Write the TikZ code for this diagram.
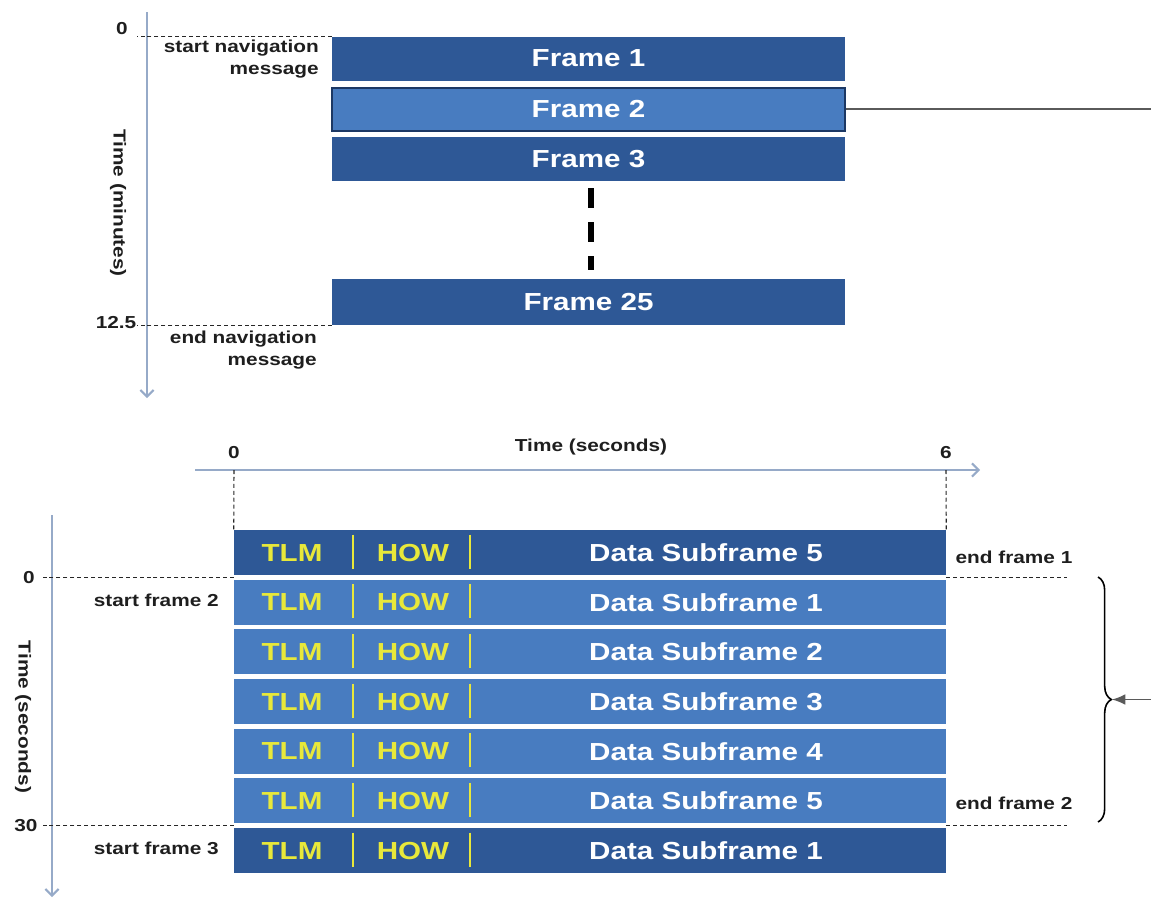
\documentclass[tikz,border=0pt]{standalone}
\usepackage{fontspec}
\setmainfont{Liberation Sans}[FakeStretch=1.2]
\usetikzlibrary{arrows.meta,decorations.pathreplacing,calc}
\definecolor{darkbox}{RGB}{46,88,150}
\definecolor{lightbox}{RGB}{72,124,192}
\definecolor{boxedge}{RGB}{28,56,100}
\definecolor{sepyellow}{RGB}{232,232,58}
\definecolor{axiscol}{RGB}{150,170,200}
\definecolor{labelcol}{RGB}{30,30,30}
\definecolor{linkcol}{RGB}{90,90,90}
\begin{document}
\begin{tikzpicture}[x=0.75pt,y=-0.75pt,
  frm/.style={rectangle, fill=darkbox, draw=none, minimum width=513*0.75pt,
    minimum height=44*0.75pt, inner sep=0pt, text=white,
    font=\bfseries\fontsize{18.5}{20}\selectfont},
  frmlight/.style={frm, fill=lightbox, draw=boxedge, line width=1.5pt},
  lbl/.style={text=labelcol, font=\bfseries\fontsize{13}{16.5}\selectfont,
    inner sep=0pt, align=right},
  axisline/.style={draw=axiscol, line width=1.5pt,
    -{Straight Barb[length=5pt,width=10pt]}},
  guide/.style={draw=black!85, line width=0.8pt, dash pattern=on 3pt off 2.2pt},
  rowbox/.style={rectangle, minimum width=712*0.75pt, minimum height=45*0.75pt,
    inner sep=0pt, draw=none},
  fld/.style={text=sepyellow, inner sep=0pt,
    font=\bfseries\fontsize{18.5}{20}\selectfont},
  dat/.style={text=white, inner sep=0pt,
    font=\bfseries\fontsize{18.5}{20}\selectfont},
  sepline/.style={draw=sepyellow, line width=2.2pt},
  link/.style={draw=linkcol, line width=1pt}
]
\useasboundingbox (0,0) rectangle (1151,901);

% ---------- top part ----------
\coordinate (ta0) at (147,12);
\coordinate (ta1) at (147,398);
\draw[axisline] (ta0) -- (ta1);

\node[frm] (f1) at (588.5,58.5) {Frame 1};
\node[frmlight, minimum height=43*0.75pt] (f2) at (588.5,109) {Frame 2};
\node[frm] (f3) at (588.5,159) {Frame 3};
\node[frm, minimum height=46*0.75pt] (f25) at (588.5,302) {Frame 25};

\draw[line width=4.5pt, dash pattern=on 15pt off 10.5pt]
  ($(f3.south)+(2.5,7)$) -- ($(f25.north)+(2.5,-9)$);

\node[lbl] (t0) at (122,29) {0};
\draw[guide] (f1.north west) -- ++(-195,0);
\node[lbl, anchor=north east] (snm) at (319,40) {start navigation\\message};

\node[lbl] (t125) at (116,323) {12.5};
\draw[guide] (f25.south west) -- ++(-195,0);
\node[lbl, anchor=north east] (enm) at (317,331) {end navigation\\message};

\node[lbl, rotate=-90] (tmin) at (118,203) {Time (minutes)};

\coordinate (outR) at (1151,109);
\draw[link] (f2.east) -- (outR);

% ---------- bottom part ----------
\coordinate (ha0) at (195,470);
\coordinate (ha1) at (980,470);
\draw[axisline] (ha0) -- (ha1);
\node[lbl] (s0) at (234,453) {0};
\node[lbl] (s6) at (946,453) {6};
\node[lbl] (tsec) at (591,447) {Time (seconds)};

\foreach \i/\lab/\col in {0/5/darkbox,1/1/lightbox,2/2/lightbox,3/3/lightbox,4/4/lightbox,5/5/lightbox,6/1/darkbox}{
  \pgfmathsetmacro\cy{552.5+49.67*\i}
  \node[rowbox, fill=\col] (r\i) at (590,\cy) {};
  \node[fld] (tlm\i) at (292,\cy) {TLM};
  \node[fld] (how\i) at (413,\cy) {HOW};
  \node[dat] (dat\i) at (706,\cy) {Data Subframe \lab};
  \draw[sepline] (353,\cy-18) -- (353,\cy+16);
  \draw[sepline] (470,\cy-18) -- (470,\cy+16);
}

\draw[guide] (234,470) -- (r0.north west);
\draw[guide] (946,470) -- (r0.north east);

\coordinate (ba0) at (52,515);
\coordinate (ba1) at (52,897);
\draw[axisline] (ba0) -- (ba1);

\node[lbl] (b0) at (29,578) {0};
\draw[guide] ($(r0.south west)!0.5!(r1.north west)$) -- ++(-191,0);
\node[lbl, anchor=east] (sf2) at (219,600) {start frame 2};

\node[lbl] (b30) at (26,826) {30};
\draw[guide] ($(r5.south west)!0.5!(r6.north west)$) -- ++(-191,0);
\node[lbl, anchor=east] (sf3) at (219,848) {start frame 3};

\node[lbl, rotate=-90] (tsecv) at (23,717) {Time (seconds)};

\node[lbl] (ef1) at (1014,557) {end frame 1};
\draw[guide] ($(r0.south east)!0.5!(r1.north east)$) -- ++(121,0);
\node[lbl] (ef2) at (1014,803) {end frame 2};
\draw[guide] ($(r5.south east)!0.5!(r6.north east)$) -- ++(121,0);

\draw[decorate, decoration={brace, amplitude=10pt}, line width=1.2pt]
  (1098,577) -- (1098,822);
\coordinate (btip) at (1112,699.5);
\coordinate (outR2) at (1151,699.5);
\draw[link, -{Latex[length=10pt,width=8pt]}] (outR2) -- (btip);
\end{tikzpicture}
\end{document}
